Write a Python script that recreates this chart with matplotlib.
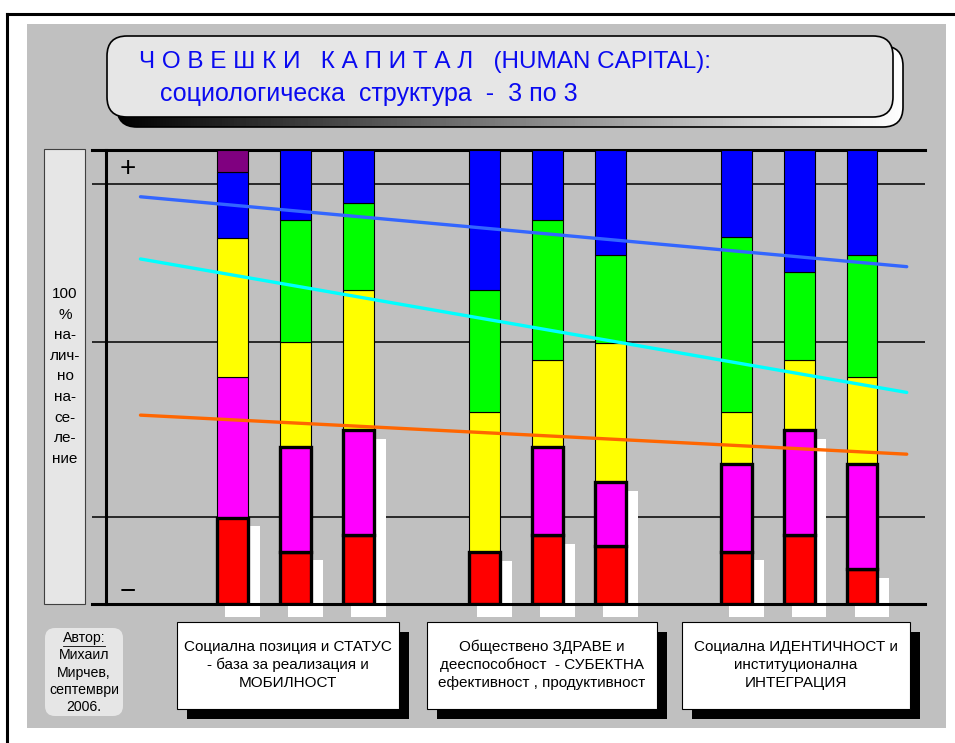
import numpy as np
import matplotlib
matplotlib.use("Agg")
import matplotlib.pyplot as plt
import matplotlib.font_manager as fm
from matplotlib.patches import Rectangle, FancyBboxPatch

# ---- data (percent of population, bottom -> top) ----
bar_pos = [0, 1, 2, 4, 5, 6, 8, 9, 10]
red = [19.0, 11.5, 15.2, 11.4, 15.1, 12.8, 11.5, 15.2, 7.6]
magenta = [31.0, 23.0, 23.1, 0.0, 19.4, 14.0, 19.3, 23.1, 23.2]
yellow = [30.7, 23.1, 30.9, 30.8, 19.3, 30.7, 11.5, 15.5, 19.2]
green = [0.0, 26.9, 19.2, 26.9, 30.8, 19.4, 38.5, 19.3, 26.9]
blue = [14.4, 15.4, 11.6, 30.8, 15.4, 23.1, 19.3, 26.9, 23.1]
purple = [4.9, 0, 0, 0, 0, 0, 0, 0, 0]
shadow_segs = [1, 1, 2, 1, 1, 2, 1, 2, 1]   # how many bottom segments get the white shadow

trend_x = [-1.46, 10.71]
trend_blue = [89.7, 74.3]
trend_cyan = [76.0, 46.6]
trend_orange = [41.6, 33.0]

grid_thin = [92.5, 57.7, 19.2]

title1 = "Ч О В Е Ш К И   К А П И Т А Л   (HUMAN CAPITAL):"
title2 = "социологическа  структура  -  3 по 3"
side_label = ["100", "%", "на-", "лич-", "но", "на-", "се-", "ле-", "ние"]
author = ["Автор:", "Михаил", "Мирчев,", "септември", "2006."]
groups = ["Социална позиция и СТАТУС\n- база за реализация и\nМОБИЛНОСТ",
          "Обществено ЗДРАВЕ и\nдееспособност  - СУБЕКТНА\nефективност , продуктивност",
          "Социална ИДЕНТИЧНОСТ и\nинституционална\nИНТЕГРАЦИЯ"]

names = [f.name for f in fm.fontManager.ttflist]
FONT = 'Liberation Sans Narrow' if 'Liberation Sans Narrow' in names else 'Liberation Sans'
plt.rcParams['font.family'] = [FONT, 'DejaVu Sans']

W, H = 955, 743
fig = plt.figure(figsize=(W / 100, H / 100), dpi=100)
fig.patch.set_facecolor('white')

# background axes in pixel units
bg = fig.add_axes([0, 0, 1, 1])
bg.set_xlim(0, W)
bg.set_ylim(H, 0)
bg.axis('off')

bg.plot([7, 7], [14, H], color='black', lw=2.2)
bg.plot([7, W], [14, 14], color='black', lw=2.2)
bg.add_patch(Rectangle((27, 24), 919, 704, facecolor='#C0C0C0', edgecolor='none'))

# title box with gradient 3d back
back = FancyBboxPatch((117, 46), 786, 81, boxstyle="round,pad=0,rounding_size=20",
                      facecolor='none', edgecolor='black', lw=1.2, zorder=2)
bg.add_patch(back)
grad = np.linspace(0, 1, 256).reshape(1, -1)
im = bg.imshow(grad, cmap='gray', extent=[117, 903, 127, 46], aspect='auto', zorder=1)
im.set_clip_path(back)
front = FancyBboxPatch((107, 36), 786, 81, boxstyle="round,pad=0,rounding_size=20",
                       facecolor='#E6E6E6', edgecolor='black', lw=1.2, zorder=3)
bg.add_patch(front)
bg.text(139, 62, title1, fontsize=17.5, color='#0A0AF0', ha='left', va='center', zorder=4)
bg.text(160, 94, title2, fontsize=18, color='#0A0AF0', ha='left', va='center', zorder=4)

# side label
bg.add_patch(Rectangle((44, 149), 41, 455, facecolor='#E6E6E6', edgecolor='#404040', lw=0.8))
for i, s in enumerate(side_label):
    bg.text(65, 294 + i * 20.6, s, fontsize=11, ha='center', va='center')

bg.text(128, 169, "+", fontsize=20, ha='center', va='center')
bg.text(128, 592, "−", fontsize=20, ha='center', va='center')

# author box
bg.add_patch(FancyBboxPatch((45, 628), 78, 88, boxstyle="round,pad=0,rounding_size=10",
                            facecolor='#E6E6E6', edgecolor='none'))
for i, s in enumerate(author):
    bg.text(84, 638 + i * 17.3, s, fontsize=10.2, ha='center', va='center')
bg.plot([63, 105], [646, 646], color='black', lw=0.6)

# group boxes
box_x = [(177, 399), (427, 657), (682, 910)]
for (x0, x1), label in zip(box_x, groups):
    bg.add_patch(Rectangle((x0 + 10, 632), x1 - x0, 87, facecolor='black', edgecolor='none'))
    bg.add_patch(Rectangle((x0, 622), x1 - x0, 87, facecolor='white', edgecolor='black', lw=0.8))
    bg.text((x0 + x1) / 2, 665, label, fontsize=11, ha='center', va='center',
            linespacing=1.35)

# chart axes
ax = fig.add_axes([92 / W, 1 - 604 / H, 833 / W, 454 / H])
ax.set_xlim(-2.23, 11.0)
ax.set_ylim(0, 100)
ax.axis('off')
ax.patch.set_alpha(0)

for y in grid_thin:
    ax.axhline(y, color='black', lw=1.1, zorder=1)
ax.axhline(100, color='black', lw=2.2, zorder=1, clip_on=False)
ax.axhline(0, color='black', lw=2.2, zorder=2.5, clip_on=False)
ax.plot([-2, -2], [0, 100], color='black', lw=2.2, zorder=1, clip_on=False)

bw = 0.49
segs = [(red, '#FF0000'), (magenta, '#FF00FF'), (yellow, '#FFFF00'),
        (green, '#00FF00'), (blue, '#0000FF'), (purple, '#800080')]
for i, x in enumerate(bar_pos):
    bottom = 0.0
    shadow_top = sum(s[0][i] for s in segs[:shadow_segs[i]])
    ax.add_patch(Rectangle((x - bw / 2 + 0.127, -2.86), bw + 0.063, shadow_top + 2.86 - 1.87,
                           facecolor='white', edgecolor='none', zorder=2, clip_on=False))
    for j, (vals, col) in enumerate(segs):
        h = vals[i]
        if h <= 0:
            continue
        thick = (j == 0) or (j == 1 and i != 0)
        ax.bar(x, h, bw, bottom=bottom, color=col, edgecolor='black',
               lw=2.4 if thick else 0.8, zorder=3 + (0.5 if thick else 0))
        bottom += h

ax.plot(trend_x, trend_blue, color='#3366FF', lw=2.4, zorder=6, solid_capstyle='round')
ax.plot(trend_x, trend_cyan, color='#00FFFF', lw=2.4, zorder=6, solid_capstyle='round')
ax.plot(trend_x, trend_orange, color='#FF6600', lw=2.4, zorder=6, solid_capstyle='round')

fig.savefig("out.png", dpi=100)
